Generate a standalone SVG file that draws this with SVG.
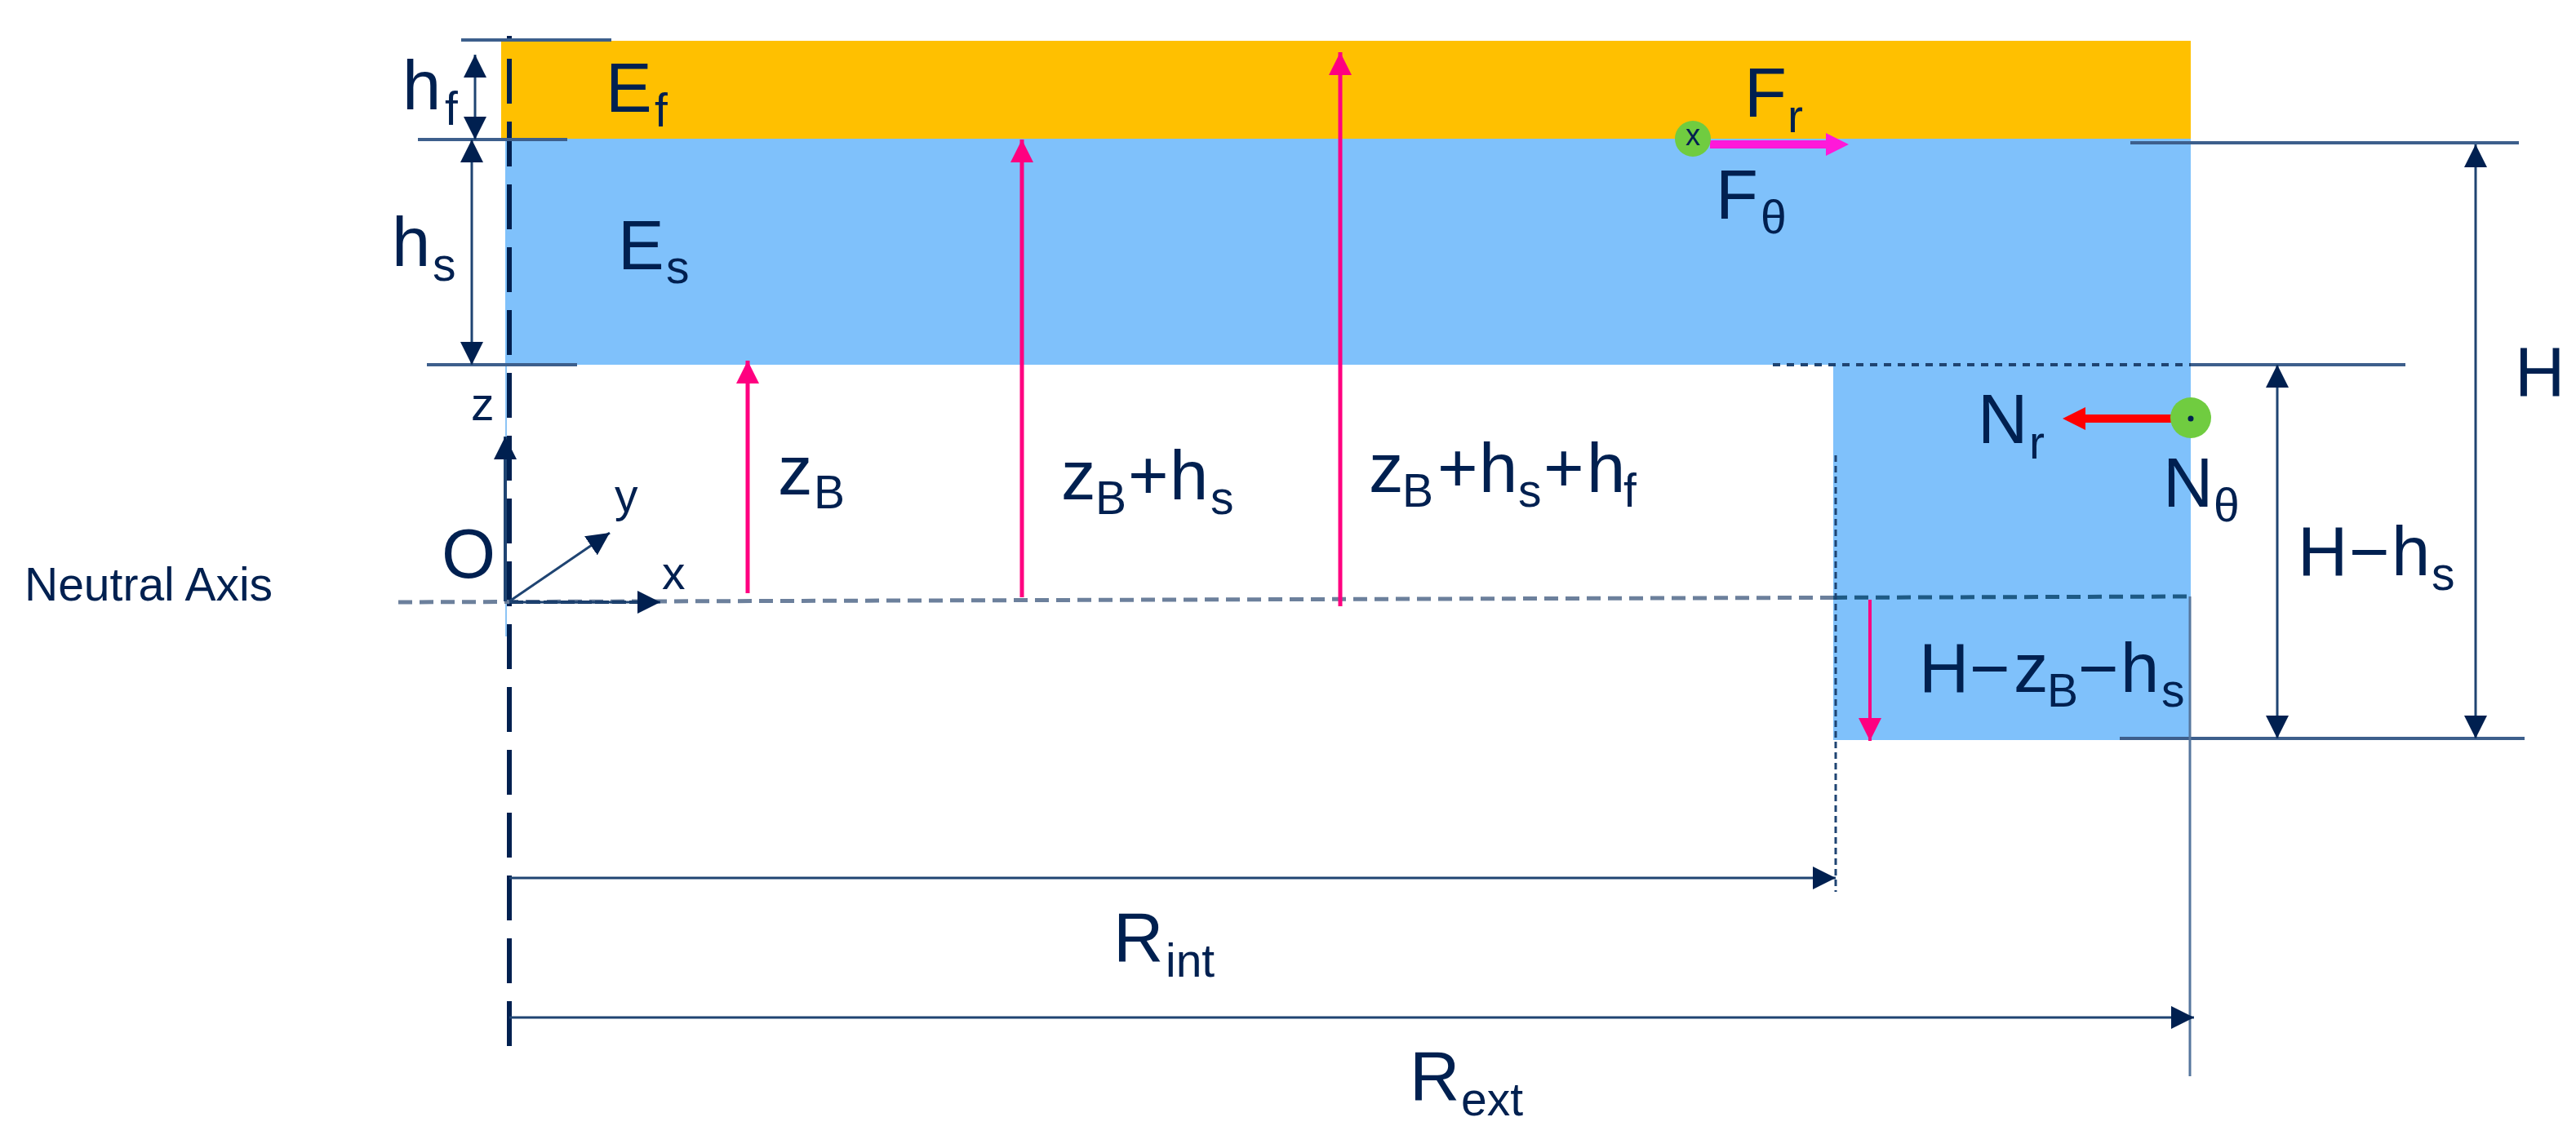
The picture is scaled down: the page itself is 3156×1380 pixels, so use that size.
<svg xmlns="http://www.w3.org/2000/svg" width="3156" height="1380" viewBox="0 0 3156 1380">
<style>
text{font-family:"Liberation Sans",Arial,sans-serif;font-size:85px;fill:#002050}
.s{font-size:57px}
.m{fill:none;stroke:#1f4472;stroke-width:3}
.e{fill:none;stroke:#3d5f8c;stroke-width:4}
.a{marker-end:url(#nav);}
.b{marker-start:url(#navs);}
.p{fill:none;stroke:#ff0080;stroke-width:5;marker-end:url(#pink)}
</style>
<defs>
<marker id="nav" markerUnits="userSpaceOnUse" markerWidth="28" markerHeight="28" refX="28" refY="14" orient="auto"><path d="M0 0L28 14L0 28Z" fill="#002050"/></marker>
<marker id="navs" markerUnits="userSpaceOnUse" markerWidth="28" markerHeight="28" refX="0" refY="14" orient="auto"><path d="M28 0L0 14L28 28Z" fill="#002050"/></marker>
<marker id="pink" markerUnits="userSpaceOnUse" markerWidth="28" markerHeight="28" refX="28" refY="14" orient="auto"><path d="M0 0L28 14L0 28Z" fill="#ff0080"/></marker>
<marker id="mag" markerUnits="userSpaceOnUse" markerWidth="28" markerHeight="28" refX="0" refY="14" orient="auto"><path d="M0 0L28 14L0 28Z" fill="#ff19d9"/></marker>
<marker id="red" markerUnits="userSpaceOnUse" markerWidth="28" markerHeight="28" refX="0" refY="14" orient="auto"><path d="M0 0L28 14L0 28Z" fill="#ff0000"/></marker>
</defs>
<rect width="3156" height="1380" fill="#fff"/>
<g id="film"><rect x="614" y="50" width="2070" height="120" fill="#ffc000"/></g>
<g id="substrate"><path d="M619 170H2684V907H2246V447H619Z" fill="#7fc1fb"/></g>
<g id="connectors">
<path d="M620 447V780" fill="none" stroke="#8cc4f5" stroke-width="2"/>
<line x1="624" y1="44" x2="624" y2="1290" stroke="#002050" stroke-width="6" stroke-dasharray="55 22" stroke-dashoffset="49"/>
<path class="e" d="M565 49H749M512 171H695M523 447H707M2610 175H3086M2684 447H2947M2597 905H3093"/>
<path d="M2172 447H2684" fill="none" stroke="#1f4472" stroke-width="4" stroke-dasharray="9 8"/>
<path d="M488 738L2246 732.4" fill="none" stroke="#6c809c" stroke-width="5" stroke-dasharray="17 9"/>
<path d="M2246 732.4L2684 731" fill="none" stroke="#1d5a85" stroke-width="5" stroke-dasharray="17 9"/>
<path d="M624 738H790" fill="none" stroke="#002050" stroke-width="4" stroke-dasharray="17 4"/>
<line class="m a b" x1="582" y1="67" x2="582" y2="171"/>
<line class="m a b" x1="578" y1="171" x2="578" y2="447"/>
<line class="m a" x1="619" y1="737" x2="619" y2="535" style="stroke-width:4"/>
<line class="m a" x1="624" y1="737" x2="747" y2="653"/>
<line class="m a" x1="624" y1="738" x2="809" y2="738"/>
<line class="m a b" x1="3033" y1="177" x2="3033" y2="905"/>
<line class="m a b" x1="2790" y1="447" x2="2790" y2="905"/>
<line x1="2249" y1="558" x2="2249" y2="1093" stroke="#1f4472" stroke-width="3" stroke-dasharray="8 5"/>
<line x1="2683" y1="731" x2="2683" y2="1319" stroke="#56779e" stroke-width="3"/>
<line class="m a" x1="624" y1="1076" x2="2249" y2="1076"/>
<line class="m a" x1="624" y1="1247" x2="2688" y2="1247"/>
<line class="p" x1="916" y1="727" x2="916" y2="442"/>
<line class="p" x1="1252" y1="732" x2="1252" y2="171"/>
<line class="p" x1="1642" y1="743" x2="1642" y2="64"/>
<line class="p" x1="2291" y1="735" x2="2291" y2="908" style="stroke-width:4"/>
<line x1="2095" y1="177" x2="2237" y2="177" stroke="#ff19d9" stroke-width="10" marker-end="url(#mag)"/>
<line x1="2660" y1="513" x2="2555" y2="513" stroke="#ff0000" stroke-width="10" marker-end="url(#red)"/>
</g>
<g id="force-f"><circle cx="2074" cy="170" r="22" fill="#70cc40"/><text x="2074" y="178" text-anchor="middle" style="font-size:36px">x</text></g>
<g id="force-n"><circle cx="2684" cy="512" r="25" fill="#70cc40"/><circle cx="2684" cy="513" r="3.5" fill="#002050"/></g>
<g id="labels">
<text class="s" x="30" y="736" style="font-size:57px">Neutral Axis</text>
<text x="493" y="134">h<tspan class="s" x="545" y="153">f</tspan></text>
<text x="480" y="326">h<tspan class="s" x="530" y="344">s</tspan></text>
<text x="742" y="137">E<tspan class="s" x="802" y="155">f</tspan></text>
<text x="757" y="330">E<tspan class="s" x="816" y="347">s</tspan></text>
<text class="s" x="577" y="515">z</text>
<text x="541" y="708">O</text>
<text class="s" x="753" y="627">y</text>
<text class="s" x="811" y="722">x</text>
<text x="953" y="606">z<tspan class="s" x="997" y="623">B</tspan></text>
<text x="1300" y="612">z<tspan class="s" x="1342" y="630">B</tspan><tspan x="1382" y="612">+</tspan><tspan x="1433" y="612">h</tspan><tspan class="s" x="1483" y="630">s</tspan></text>
<text x="1677" y="603">z<tspan class="s" x="1718" y="621">B</tspan><tspan x="1761" y="603">+</tspan><tspan x="1812" y="603">h</tspan><tspan class="s" x="1860" y="621">s</tspan><tspan x="1891" y="603">+</tspan><tspan x="1944" y="603">h</tspan><tspan class="s" x="1989" y="621">f</tspan></text>
<text x="2137" y="143">F<tspan class="s" x="2190" y="162">r</tspan></text>
<text x="2102" y="268">F<tspan class="s" x="2157" y="286">θ</tspan></text>
<text x="2423" y="543">N<tspan class="s" x="2486" y="562">r</tspan></text>
<text x="2650" y="621">N<tspan class="s" x="2712" y="639">θ</tspan></text>
<text x="3081" y="485">H</text>
<text x="2815" y="705">H<tspan x="2878" y="705">−</tspan><tspan x="2930" y="705">h</tspan><tspan class="s" x="2979" y="723">s</tspan></text>
<text x="2351" y="848">H<tspan x="2413" y="848">−</tspan><tspan x="2467" y="848">z</tspan><tspan class="s" x="2508" y="866">B</tspan><tspan x="2546" y="848">−</tspan><tspan x="2598" y="848">h</tspan><tspan class="s" x="2648" y="866">s</tspan></text>
<text x="1364" y="1178">R<tspan class="s" x="1428" y="1197">int</tspan></text>
<text x="1727" y="1348">R<tspan class="s" x="1790" y="1367">ext</tspan></text>
</g>
</svg>
